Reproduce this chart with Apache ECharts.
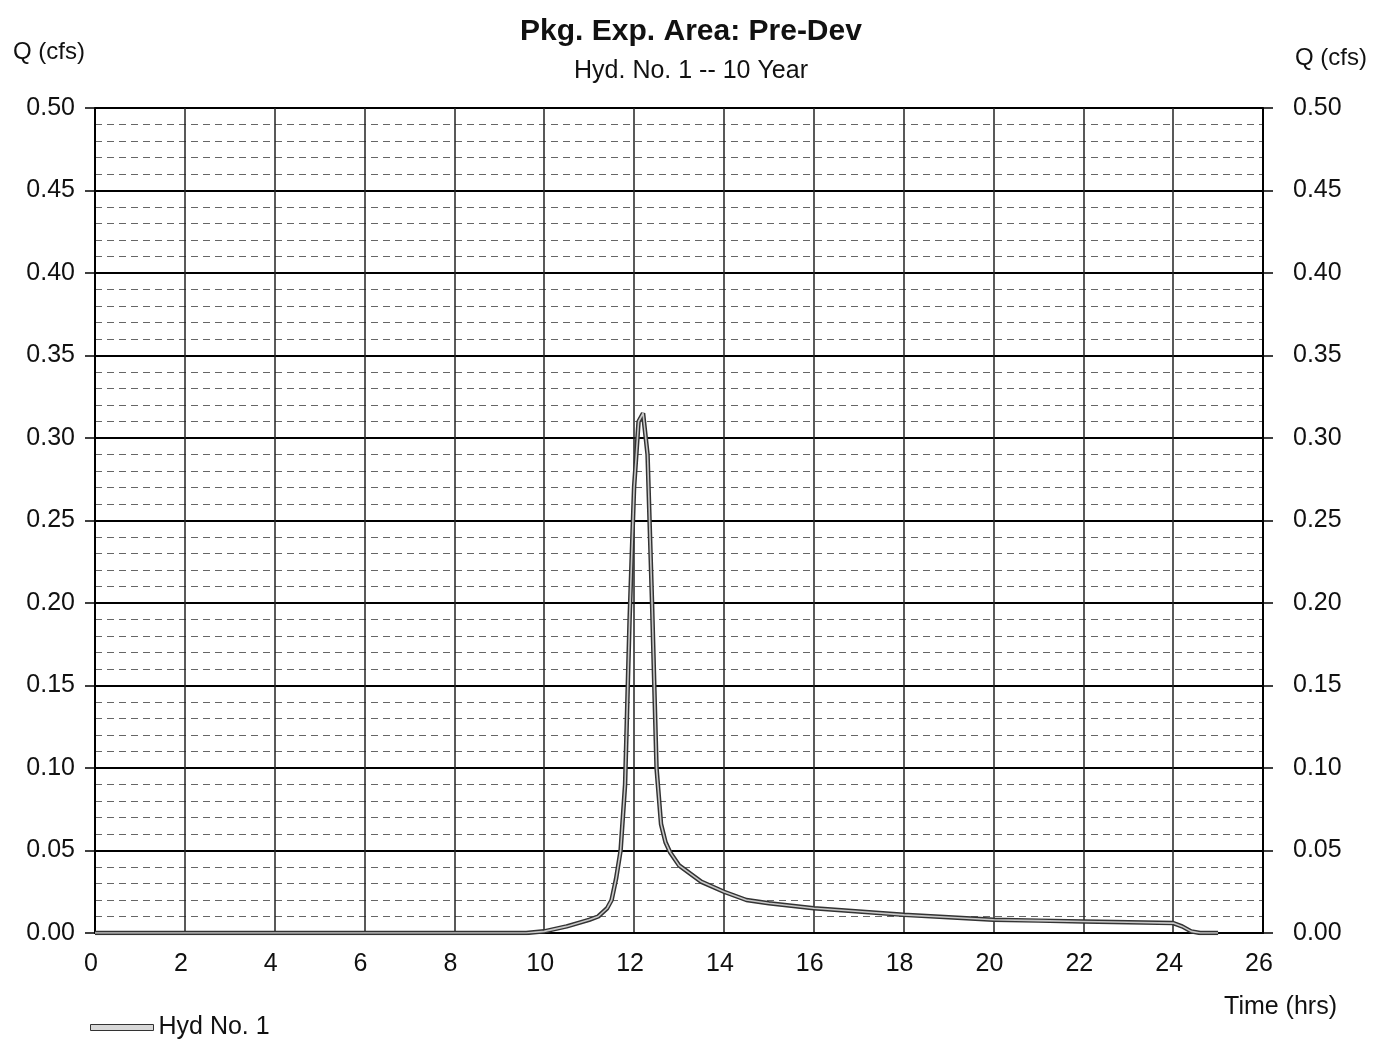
<!DOCTYPE html>
<html>
<head>
<meta charset="utf-8">
<title>Pkg. Exp. Area: Pre-Dev</title>
<script src="https://cdn.jsdelivr.net/npm/echarts@6/dist/echarts.min.js"></script>
<style>
  html, body { margin: 0; padding: 0; background: #fff; }
  #chart { width: 1385px; height: 1039px; }
</style>
</head>
<body>
<div id="chart"></div>
<script>
// hydrograph: time (hrs) and flow Q (cfs)
var timeHrs = [0, 9.6, 10.0, 10.5, 11.0, 11.2, 11.4, 11.5, 11.6, 11.7, 11.8, 11.9, 12.0, 12.1, 12.2,
               12.3, 12.4, 12.5, 12.6, 12.7, 12.8, 13.0, 13.5, 14.0, 14.5, 15.0, 15.5, 16.0, 17.0,
               18.0, 19.0, 20.0, 21.0, 22.0, 23.0, 24.0, 24.2, 24.4, 24.6, 25.0];
var flowCfs = [0, 0, 0.001, 0.004, 0.008, 0.010, 0.015, 0.020, 0.033, 0.050, 0.090, 0.190, 0.270, 0.310, 0.315,
               0.290, 0.200, 0.100, 0.066, 0.055, 0.049, 0.041, 0.031, 0.025, 0.020, 0.018, 0.0165, 0.015, 0.013,
               0.011, 0.0095, 0.008, 0.0075, 0.007, 0.0065, 0.006, 0.004, 0.001, 0, 0];
var xTicks = [0, 2, 4, 6, 8, 10, 12, 14, 16, 18, 20, 22, 24, 26];
var yTicks = [0.00, 0.05, 0.10, 0.15, 0.20, 0.25, 0.30, 0.35, 0.40, 0.45, 0.50];

var seriesName = 'Hyd No. 1';
var pts = timeHrs.map(function (t, i) { return [t, flowCfs[i]]; });

var font = '"Liberation Sans", Arial, sans-serif';
var chart = echarts.init(document.getElementById('chart'));

function yAxisCfg(pos) {
  var left = pos === 'left';
  return {
    type: 'value',
    position: pos,
    min: yTicks[0],
    max: yTicks[yTicks.length - 1],
    interval: 0.05,
    name: 'Q (cfs)',
    nameLocation: 'end',
    nameGap: left ? 44 : 38,
    nameTextStyle: {
      fontFamily: font, fontSize: 24, color: '#111',
      align: left ? 'right' : 'left',
      padding: left ? [0, 10, 0, 0] : [0, 0, 0, 32]
    },
    axisLine: { show: true, lineStyle: { color: '#000', width: 2 } },
    axisTick: { show: true, length: 10, lineStyle: { color: '#000', width: 1.5 } },
    axisLabel: {
      fontFamily: font, fontSize: 25, color: '#111',
      margin: left ? 20 : 30,
      formatter: function (v) { return v.toFixed(2); }
    },
    splitLine: { show: left, lineStyle: { color: '#000', width: 2 } },
    minorTick: { show: false, splitNumber: 5 },
    minorSplitLine: { show: left, lineStyle: { color: '#666', width: 1, type: [7, 5] } }
  };
}

chart.setOption({
  backgroundColor: '#fff',
  animation: false,
  title: {
    text: 'Pkg. Exp. Area: Pre-Dev',
    subtext: 'Hyd. No. 1 -- 10 Year',
    left: 686,
    textAlign: 'center',
    top: 12,
    itemGap: 12,
    textStyle: { fontFamily: font, fontSize: 30, fontWeight: 'bold', color: '#111' },
    subtextStyle: { fontFamily: font, fontSize: 25, color: '#111' }
  },
  legend: {
    left: 85,
    top: 1010,
    itemWidth: 63,
    itemHeight: 6,
    itemGap: 12,
    textStyle: { fontFamily: font, fontSize: 25, color: '#111' },
    data: [{ name: seriesName, icon: 'rect', itemStyle: { color: '#d8d8d8', borderColor: '#333', borderWidth: 1 } }]
  },
  grid: { left: 95, right: 122, top: 108, bottom: 106 },
  xAxis: {
    type: 'value',
    min: xTicks[0],
    max: xTicks[xTicks.length - 1],
    interval: 2,
    name: 'Time (hrs)',
    nameLocation: 'end',
    nameGap: 74,
    nameTextStyle: {
      fontFamily: font, fontSize: 25, color: '#111',
      align: 'right', verticalAlign: 'top', padding: [62, 0, 0, 0]
    },
    axisLine: { show: true, lineStyle: { color: '#000', width: 2 } },
    axisTick: { show: false },
    axisLabel: { fontFamily: font, fontSize: 25, color: '#111', margin: 19, padding: [0, 8, 0, 0] },
    splitLine: { show: true, lineStyle: { color: '#222', width: 1.5 } }
  },
  yAxis: [yAxisCfg('left'), yAxisCfg('right')],
  series: [
    {
      name: seriesName,
      type: 'line',
      data: pts,
      showSymbol: false,
      symbol: 'none',
      lineStyle: { color: '#333', width: 4.5 },
      itemStyle: { color: '#d8d8d8', borderColor: '#333' },
      z: 3
    },
    {
      name: seriesName + ' core',
      type: 'line',
      data: pts,
      showSymbol: false,
      symbol: 'none',
      lineStyle: { color: '#c8c8c8', width: 1.6 },
      z: 4
    }
  ]
});
</script>
</body>
</html>
